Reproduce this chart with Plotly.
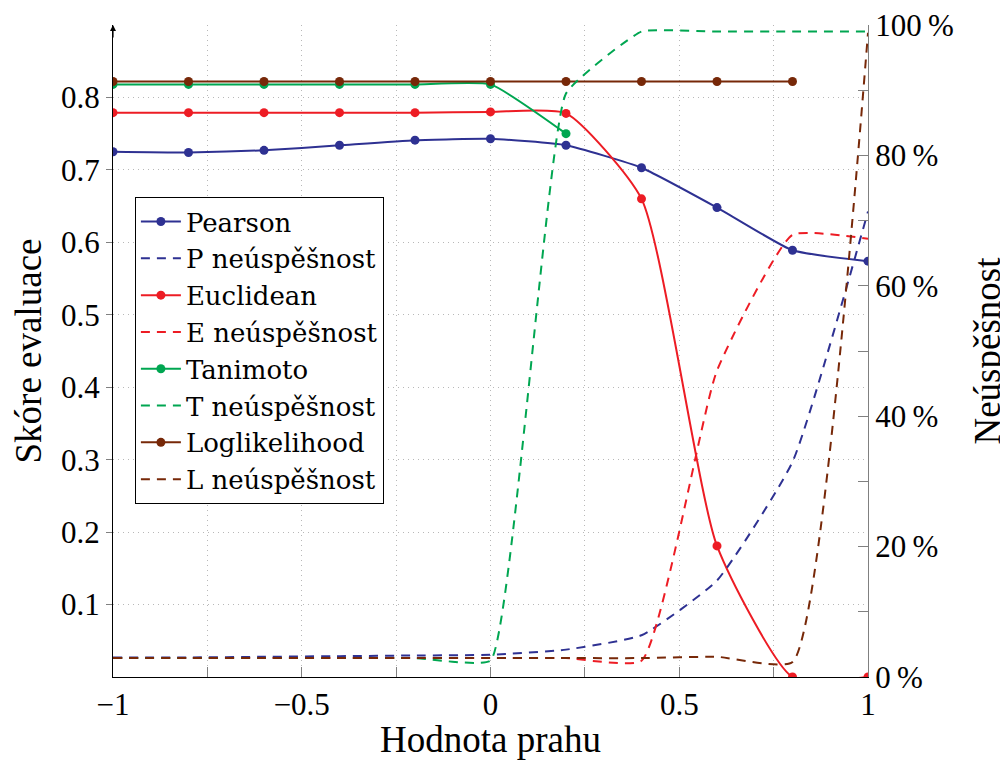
import plotly.graph_objects as go

# ---- data ----
thresholds = [-1.0, -0.8, -0.6, -0.4, -0.2, 0.0, 0.2, 0.4, 0.6, 0.8, 1.0]
pearson = [0.725, 0.724, 0.727, 0.734, 0.741, 0.743, 0.734, 0.703, 0.648, 0.589, 0.574]
euclidean = [0.779, 0.779, 0.779, 0.779, 0.779, 0.780, 0.778, 0.660, 0.181, 0.0, 0.0]
tanimoto = [0.818, 0.818, 0.818, 0.818, 0.818, 0.818, 0.750]
loglik = [0.822, 0.822, 0.822, 0.822, 0.822, 0.822, 0.822, 0.822, 0.822, 0.822]

p_fail = [3.0, 3.0, 3.1, 3.2, 3.3, 3.4, 4.2, 6.4, 14.8, 33.0, 71.4]
e_fail = [2.9, 2.9, 2.9, 2.9, 2.9, 2.9, 2.9, 2.5, 47.0, 67.8, 67.2]
t_fail = [2.9, 2.9, 2.9, 2.9, 2.9, 2.5, 89.5, 99.0, 99.0, 99.0, 99.0]
l_fail = [2.9, 2.9, 2.9, 2.9, 2.9, 2.9, 2.9, 2.9, 3.1, 2.3, 98.8]

series_names = ["Pearson", "P neúspěšnost", "Euclidean", "E neúspěšnost",
                "Tanimoto", "T neúspěšnost", "Loglikelihood", "L neúspěšnost"]

x_ticks = [-1.0, -0.75, -0.5, -0.25, 0.0, 0.25, 0.5, 0.75, 1.0]
x_labels = ["−1", "", "−0.5", "", "0", "", "0.5", "", "1"]
y_ticks = [0.1, 0.2, 0.3, 0.4, 0.5, 0.6, 0.7, 0.8]
y_labels = ["0.1", "0.2", "0.3", "0.4", "0.5", "0.6", "0.7", "0.8"]
y2_ticks = [0, 10, 20, 30, 40, 50, 60, 70, 80, 90, 100]
y2_labels = ["0\u2009%", "", "20\u2009%", "", "40\u2009%", "", "60\u2009%", "", "80\u2009%", "", "100\u2009%"]

# ---- styles ----
BLUE = "#2E3192"
RED = "#ED1C24"
GREEN = "#00A651"
BROWN = "#772808"
FONT = "Liberation Serif"
LEGEND_FONT = "DejaVu Serif"
DASH = "9px,7px"
GRID_DASH = "1px,4px"
GRID_COLOR = "#b8b8b8"

fig = go.Figure()

def solid(name, ys, color, smooth=0.45):
    fig.add_trace(go.Scatter(
        x=thresholds[:len(ys)], y=ys, name=name, mode="lines+markers",
        line=dict(color=color, width=2, shape="spline", smoothing=smooth),
        marker=dict(color=color, size=9), yaxis="y"))

def dashed(name, ys, color, smooth=0.45):
    fig.add_trace(go.Scatter(
        x=thresholds[:len(ys)], y=ys, name=name, mode="lines",
        line=dict(color=color, width=2, dash=DASH, shape="spline", smoothing=smooth),
        yaxis="y2"))

solid(series_names[0], pearson, BLUE)
dashed(series_names[1], p_fail, BLUE)
solid(series_names[2], euclidean, RED, 0.55)
dashed(series_names[3], e_fail, RED)
solid(series_names[4], tanimoto, GREEN)
dashed(series_names[5], t_fail, GREEN, 0.35)
solid(series_names[6], loglik, BROWN)
dashed(series_names[7], l_fail, BROWN)

fig.update_layout(
    width=1000, height=752,
    margin=dict(l=105, r=140, t=17, b=83),
    paper_bgcolor="white", plot_bgcolor="white",
    font=dict(family=FONT, size=31, color="black"),
    showlegend=True,
    legend=dict(x=0.029, y=0.736, xanchor="left", yanchor="top",
                bgcolor="white", bordercolor="black", borderwidth=1,
                font=dict(family=LEGEND_FONT, size=26), tracegroupgap=0,
                itemwidth=40),
    xaxis=dict(range=[-1, 1], tickvals=x_ticks, ticktext=x_labels,
               automargin=False, ticklabeloverflow="allow",
               showgrid=True, gridcolor=GRID_COLOR, griddash=GRID_DASH, gridwidth=1,
               zeroline=False, showline=True, linecolor="black", linewidth=1,
               ticks="inside", ticklen=10, tickcolor="#808080",
               title=dict(text="Hodnota prahu", standoff=17),
               tickfont=dict(size=31)),
    xaxis2=dict(range=[-1, 1], overlaying="x", side="top", anchor="y",
                automargin=False,
                tickvals=x_ticks, showticklabels=False, showgrid=False,
                zeroline=False, showline=True, linecolor="#808080", linewidth=1,
                ticks="inside", ticklen=8, tickcolor="#808080"),
    yaxis=dict(range=[0, 0.9], tickvals=y_ticks, ticktext=y_labels,
               automargin=False, ticklabeloverflow="allow",
               showgrid=True, gridcolor=GRID_COLOR, griddash=GRID_DASH, gridwidth=1,
               zeroline=False, showline=True, linecolor="black", linewidth=1,
               ticks="outside", ticklen=6, tickcolor="#808080",
               title=dict(text="Skóre evaluace", standoff=8),
               tickfont=dict(size=31)),
    yaxis2=dict(range=[0, 100], overlaying="y", side="right", anchor="x",
                automargin=False, ticklabeloverflow="allow",
                tickvals=y2_ticks, ticktext=y2_labels,
                showgrid=False, zeroline=False, showline=True,
                linecolor="#808080", linewidth=1,
                ticks="inside", ticklen=10, tickcolor="#808080",
                title=dict(text="Neúspěšnost", standoff=37),
                tickfont=dict(size=31)),
    annotations=[dict(x=0, y=1, xref="paper", yref="paper", text="",
                      showarrow=True, ax=0, ay=14, arrowhead=2, arrowsize=1,
                      arrowwidth=1.2, arrowcolor="black")],
)

fig.write_html("out.html")
